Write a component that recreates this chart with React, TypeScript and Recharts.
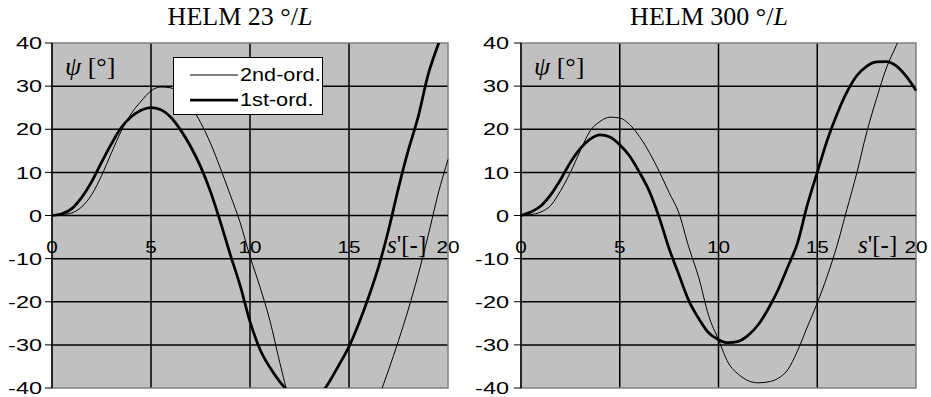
import { LineChart, Line, XAxis, YAxis, CartesianGrid, ReferenceLine, ReferenceArea, Legend, Label } from 'recharts';

const S_VALUES = [0, 0.5, 1, 1.5, 2, 2.5, 3, 3.5, 4, 4.5, 5, 5.5, 6, 6.5, 7, 7.5, 8, 8.5, 9, 9.5, 10, 10.5, 11, 11.5, 12, 12.5, 13, 13.5, 14, 14.5, 15, 15.5, 16, 16.5, 17, 17.5, 18, 18.5, 19, 19.5, 20];

// HELM 23 °/L
const HELM23_FIRST = [0, 0.4, 1.6, 4.2, 7.8, 12.3, 16.6, 20.4, 22.9, 24.4, 25, 24.5, 22.8, 19.8, 16, 11.4, 5.6, -1.4, -9, -16.2, -24.6, -31, -35.2, -38.5, -41, -42.6, -43, -41.8, -38.6, -34.6, -30.4, -25, -18.8, -11.8, -3.3, 6.4, 15.2, 23, 32.7, 39.6, 46];
const HELM23_SECOND = [0, 0.2, 0.6, 2, 4.8, 9.2, 14.5, 19.6, 23.6, 26.5, 28.9, 29.8, 29.6, 28, 25.4, 21.6, 16.8, 11, 4.8, -1.6, -9.5, -16.5, -24.3, -34, -43, -49, -53, -55.5, -56.5, -56, -54, -50.5, -46.5, -42, -35.8, -29, -21.7, -13.6, -4.6, 5, 13];

// HELM 300 °/L
const HELM300_FIRST = [0, 0.8, 2.2, 4.8, 8.3, 12.3, 15.5, 17.7, 18.7, 18.2, 16.4, 13.8, 10, 5.6, -0.5, -7.7, -13.8, -19.8, -23.9, -27.2, -28.8, -29.5, -29.2, -27.8, -25.4, -21.8, -17.4, -12, -6.4, 2.5, 10, 17.4, 23.5, 28.6, 32.4, 34.6, 35.6, 35.7, 34.7, 32.3, 29];
const HELM300_SECOND = [0, 0.2, 0.8, 2.3, 5.7, 10, 15, 19.6, 21.8, 22.8, 22.6, 21.1, 18.3, 14.6, 10.2, 5.3, 0.5, -7.4, -14.4, -23.2, -28.8, -34.2, -36.8, -38.3, -38.8, -38.6, -37.8, -35.8, -31.4, -25.8, -20.3, -14.1, -7, 1.4, 9.8, 19.2, 27.1, 34.2, 39.4, 45, 50];

const X_TICKS = [0, 5, 10, 15, 20];
const Y_TICKS = [-40, -30, -20, -10, 0, 10, 20, 30, 40];
const GRID_X = [5, 10, 15];
const GRID_Y = [-30, -20, -10, 10, 20, 30];

const SERIES = [
  { key: 'second', name: '2nd-ord.', width: 1 },
  { key: 'first', name: '1st-ord.', width: 2.75 },
];

const SANS = 'Arial, "Liberation Sans", sans-serif';
const SERIF = '"Times New Roman", "Liberation Serif", serif';
const TICK_FONT = 17;

function LegendBox() {
  return (
    <div
      style={{
        width: 150,
        height: 58,
        boxSizing: 'border-box',
        background: '#fff',
        border: '1px solid #000',
        padding: '4px 0 0 16px',
        fontFamily: SANS,
        fontSize: 19,
        color: '#000',
      }}
    >
      {SERIES.map((s) => (
        <div key={s.key} style={{ display: 'flex', alignItems: 'center', height: 25 }}>
          <svg width={48} height={10}>
            <line x1={0} x2={48} y1={5} y2={5} stroke="#000" strokeWidth={s.width} />
          </svg>
          <span style={{ marginLeft: 2, display: 'inline-block', transform: 'scaleX(1.14)', transformOrigin: 'left center' }}>{s.name}</span>
        </div>
      ))}
    </div>
  );
}

interface PanelProps {
  angle: string;
  first: number[];
  second: number[];
  left: number;
  width: number;
  yAxisWidth: number;
  tickMargin: number;
  marginRight: number;
  titleCenter: number;
  sLabelOffset: number;
  showLegend?: boolean;
}

function Panel({ angle, first, second, left, width, yAxisWidth, tickMargin, marginRight, titleCenter, sLabelOffset, showLegend }: PanelProps) {
  const data = S_VALUES.map((s, i) => ({ s, first: first[i], second: second[i] }));
  const plotRight = width - marginRight;

  return (
    <div style={{ position: 'absolute', left, top: 0, width, height: 397 }}>
      <div
        style={{
          position: 'absolute',
          left: 0,
          top: 2,
          width: titleCenter * 2,
          textAlign: 'center',
          fontFamily: SERIF,
          fontSize: 26,
          lineHeight: '30px',
          color: '#000',
        }}
      >
        HELM {angle} °/<i>L</i>
      </div>
      <LineChart width={width} height={397} data={data} margin={{ top: 43, right: marginRight, bottom: 8, left: 0 }}>
        <CartesianGrid fill="#c0c0c0" stroke="#000" strokeWidth={1.5} horizontalValues={GRID_Y} verticalValues={GRID_X} />
        <ReferenceArea x1={0} x2={20} y1={-40} y2={40} fill="none" stroke="#808080" strokeWidth={1.5} />
        <XAxis
          type="number"
          dataKey="s"
          domain={[0, 20]}
          ticks={X_TICKS}
          interval={0}
          height={1}
          axisLine={false}
          tickLine={false}
          tick={(p: any) => (
            <text
              transform={`translate(${p.x},253) scale(1.22,1)`}
              textAnchor="middle"
              fontFamily={SANS}
              fontSize={TICK_FONT}
              fill="#000"
            >
              {p.payload.value}
            </text>
          )}
        >
          <Label
            content={() => (
              <text x={plotRight - sLabelOffset} y={253} fontFamily={SERIF} fontSize={25} fill="#000">
                <tspan fontStyle="italic">s</tspan>
                <tspan>'[-]</tspan>
              </text>
            )}
          />
        </XAxis>
        <YAxis
          type="number"
          domain={[-40, 40]}
          ticks={Y_TICKS}
          interval={0}
          allowDataOverflow
          width={yAxisWidth}
          tickSize={7}
          tickMargin={tickMargin}
          axisLine={{ stroke: '#000', strokeWidth: 1.5 }}
          tickLine={{ stroke: '#000' }}
          tick={(p: any) => (
            <text
              transform={`translate(${p.x},${p.y}) scale(1.38,1)`}
              dy="0.36em"
              textAnchor="end"
              fontFamily={SANS}
              fontSize={TICK_FONT}
              fill="#000"
            >
              {p.payload.value}
            </text>
          )}
        >
          <Label
            content={() => (
              <text x={yAxisWidth + 13} y={75} fontFamily={SERIF} fontSize={26} fill="#000">
                <tspan fontStyle="italic">ψ</tspan>
                <tspan> [°]</tspan>
              </text>
            )}
          />
        </YAxis>
        <ReferenceLine y={0} stroke="#000" strokeWidth={1.5} />
        {SERIES.map((s) => (
          <Line
            key={s.key}
            dataKey={s.key}
            name={s.name}
            type="monotone"
            stroke="#000"
            strokeWidth={s.width}
            dot={false}
            isAnimationActive={false}
          />
        ))}
        {showLegend && (
          <Legend
            layout="vertical"
            align="center"
            verticalAlign="middle"
            content={() => <LegendBox />}
            wrapperStyle={{ left: 173, top: 57, width: 150, height: 58 }}
          />
        )}
      </LineChart>
    </div>
  );
}

export default function App() {
  return (
    <div style={{ position: 'absolute', left: 0, top: 0, width: 931, height: 397, background: '#fff' }}>
      <Panel
        angle="23"
        first={HELM23_FIRST}
        second={HELM23_SECOND}
        left={0}
        width={465}
        yAxisWidth={52}
        tickMargin={3}
        marginRight={17}
        titleCenter={240}
        sLabelOffset={61}
        showLegend
      />
      <Panel
        angle="300"
        first={HELM300_FIRST}
        second={HELM300_SECOND}
        left={465}
        width={466}
        yAxisWidth={56}
        tickMargin={5}
        marginRight={15}
        titleCenter={244}
        sLabelOffset={58}
      />
    </div>
  );
}
